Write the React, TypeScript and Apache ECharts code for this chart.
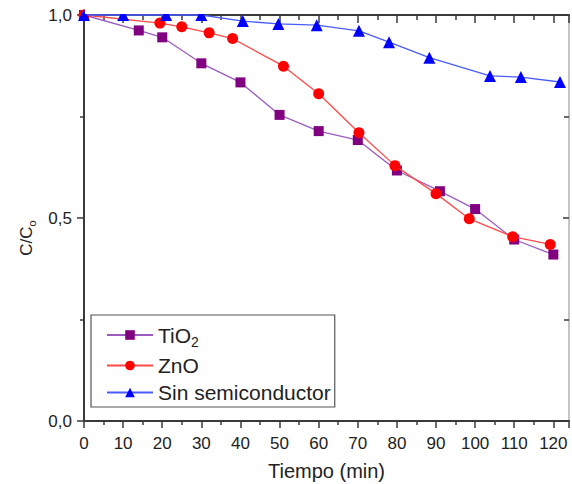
import React, { useEffect, useRef } from "react";
import * as echarts from "echarts";

// ---- data ----
const tio2X = [0, 14, 20, 30, 40, 50, 60, 70, 80, 91, 100, 110, 120];
const tio2Y = [1.0, 0.962, 0.945, 0.881, 0.834, 0.754, 0.714, 0.692, 0.617, 0.566, 0.522, 0.447, 0.41];

const znoX = [0, 19.4, 25, 32, 38, 51, 60, 70.3, 79.5, 90, 98.5, 109.6, 119.2];
const znoY = [1.0, 0.98, 0.971, 0.956, 0.942, 0.874, 0.806, 0.71, 0.629, 0.56, 0.498, 0.454, 0.435];

const sinX = [0, 10, 21, 30, 40.6, 49.7, 59.5, 70.3, 78, 88.3, 103.8, 111.7, 121.7];
const sinY = [1.0, 1.0, 1.0, 1.0, 0.985, 0.978, 0.975, 0.961, 0.933, 0.895, 0.85, 0.847, 0.835];

const seriesNames = ["TiO2", "ZnO", "Sin semiconductor"];
const xTitle = "Tiempo (min)";

const FONT = "'Liberation Sans', Arial, sans-serif";

function pairs(xs: number[], ys: number[]) {
  return xs.map((x, i) => [x, ys[i]]);
}

export default function App() {
  const ref = useRef<HTMLDivElement>(null);

  useEffect(() => {
    if (!ref.current) return;
    const chart = echarts.init(ref.current, undefined, { renderer: "svg" });
    const axisColor = "#3a3a3a";
    const baseAxis = {
      type: "value" as const,
      splitLine: { show: false },
      minorSplitLine: { show: false },
    };
    chart.setOption({
      animation: false,
      backgroundColor: "#ffffff",
      textStyle: { fontFamily: FONT },
      grid: { left: 84, right: 3, top: 15, bottom: 63, containLabel: false, outerBoundsMode: "none" },
      xAxis: [
        {
          ...baseAxis,
          position: "bottom",
          min: 0,
          max: 124,
          interval: 10,
          axisLine: { show: true, onZero: false, lineStyle: { color: axisColor, width: 2 } },
          axisTick: { show: true, inside: false, length: 7, lineStyle: { color: axisColor, width: 1.5 } },
          minorTick: { show: true, splitNumber: 2, length: 4, lineStyle: { color: axisColor, width: 1.5 } },
          axisLabel: {
            show: true,
            fontSize: 17,
            color: "#222",
            margin: 14,
            fontFamily: FONT,
            formatter: (v: number) => (v % 10 === 0 ? String(v) : ""),
          },
          name: xTitle,
          nameLocation: "middle",
          nameGap: 40,
          nameTextStyle: { fontSize: 20, color: "#222", fontFamily: FONT },
        },
        {
          ...baseAxis,
          position: "top",
          min: 0,
          max: 124,
          interval: 10,
          axisLine: { show: true, onZero: false, lineStyle: { color: axisColor, width: 2 } },
          axisTick: { show: true, inside: true, length: 8, lineStyle: { color: axisColor, width: 1.5 } },
          minorTick: { show: true, splitNumber: 2, length: 5, lineStyle: { color: axisColor, width: 1.5 } },
          axisLabel: { show: false },
        },
      ],
      yAxis: [
        {
          ...baseAxis,
          position: "left",
          min: 0,
          max: 1,
          interval: 0.5,
          axisLine: { show: true, onZero: false, lineStyle: { color: axisColor, width: 2 } },
          axisTick: { show: true, inside: false, length: 7, lineStyle: { color: axisColor, width: 1.5 } },
          minorTick: { show: true, splitNumber: 2, length: 4, lineStyle: { color: axisColor, width: 1.5 } },
          axisLabel: {
            show: true,
            fontSize: 17,
            color: "#222",
            margin: 12,
            fontFamily: FONT,
            formatter: (v: number) => v.toFixed(1).replace(".", ","),
          },
          name: "{a|C/C}{s|o}",
          nameLocation: "middle",
          nameGap: 46,
          nameRotate: 90,
          nameTextStyle: {
            color: "#222",
            fontSize: 17,
            padding: [0, 40, 0, 0],
            rich: {
              a: { fontSize: 17, lineHeight: 22, color: "#222", fontFamily: FONT },
              s: { fontSize: 11, lineHeight: 11, verticalAlign: "bottom", color: "#222", fontFamily: FONT },
            },
          },
        },
        {
          ...baseAxis,
          position: "right",
          min: 0,
          max: 1,
          interval: 0.5,
          axisLine: { show: true, onZero: false, lineStyle: { color: "#b0b0b0", width: 1.5 } },
          axisTick: { show: true, inside: true, length: 6, lineStyle: { color: axisColor, width: 1.5 } },
          minorTick: { show: true, splitNumber: 2, length: 5, lineStyle: { color: axisColor, width: 1.5 } },
          axisLabel: { show: false },
        },
      ],
      legend: {
        orient: "vertical",
        left: 91,
        top: 315,
        itemWidth: 46,
        itemHeight: 12,
        itemGap: 6,
        padding: [6, 4, 4, 15],
        borderColor: "#555",
        borderWidth: 1.2,
        backgroundColor: "#fff",
        data: seriesNames,
        formatter: (name: string) => (name === "TiO2" ? "{a|TiO}{s|2}" : name),
        textStyle: {
          fontSize: 21,
          lineHeight: 20,
          color: "#222",
          fontFamily: FONT,
          rich: {
            a: { fontSize: 21, lineHeight: 28, color: "#222", fontFamily: FONT },
            s: { fontSize: 14, lineHeight: 12, verticalAlign: "bottom", color: "#222", fontFamily: FONT },
          },
        },
      },
      graphic: [
        {
          type: "rect",
          z: 100,
          shape: { x: 85, y: 0, width: 490, height: 14 },
          style: { fill: "#ffffff" },
          silent: true,
        },
      ],
      series: [
        {
          name: seriesNames[0],
          type: "line",
          data: pairs(tio2X, tio2Y),
          symbol: "rect",
          symbolSize: 10,
          lineStyle: { color: "#9a5cc0", width: 1.3 },
          itemStyle: { color: "#800080" },
          clip: false,
          z: 3,
        },
        {
          name: seriesNames[1],
          type: "line",
          data: pairs(znoX, znoY),
          symbol: "circle",
          symbolSize: 11,
          lineStyle: { color: "#ff4a4a", width: 1.3 },
          itemStyle: { color: "#ff0000" },
          clip: false,
          z: 4,
        },
        {
          name: seriesNames[2],
          type: "line",
          data: pairs(sinX, sinY),
          symbol: "triangle",
          symbolSize: 12,
          lineStyle: { color: "#4a5cff", width: 1.3 },
          itemStyle: { color: "#0000ff" },
          clip: false,
          z: 5,
        },
      ],
    });
    return () => chart.dispose();
  }, []);

  return (
    <div
      ref={ref}
      style={{ position: "absolute", left: 0, top: 0, width: 572, height: 484, background: "#fff" }}
    />
  );
}
